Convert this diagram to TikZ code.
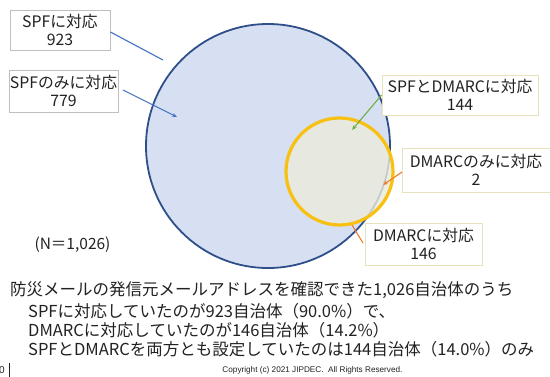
\documentclass[tikz,border=0pt]{standalone}
\usepackage{fontspec}
\setmainfont{Noto Sans CJK JP}
\newfontfamily\arialfont{Liberation Sans}
\usetikzlibrary{arrows.meta}
\definecolor{spfblue}{HTML}{D7E0F2}
\definecolor{spfline}{HTML}{2F4F8A}
\definecolor{dmfill}{HTML}{EBEADC}
\definecolor{dmline}{HTML}{F8C010}
\definecolor{boxgray}{HTML}{BFBFBF}
\definecolor{boxyel}{HTML}{E6E2BC}
\definecolor{cblue}{HTML}{4472C4}
\definecolor{cgreen}{HTML}{70AD47}
\definecolor{corange}{HTML}{ED7D31}
\definecolor{txt}{HTML}{222222}
\tikzset{
  lbl/.style={draw=boxgray, line width=0.8pt, fill=white, align=center, inner sep=0pt,
    font=\fontsize{15.8}{17.5}\selectfont, text=txt},
  lbly/.style={lbl, draw=boxyel},
  conn/.style={line width=1.1pt},
  tip/.style={-{Stealth[length=5pt,width=4pt]}},
  body/.style={anchor=west, inner sep=0pt, font=\fontsize{16.5}{19}\selectfont, text=txt}
}
\begin{document}
\begin{tikzpicture}[x=1pt,y=-1pt]
\useasboundingbox (0,0) rectangle (550,376);
\fill[white] (0,0) rectangle (550,376);
% circles
\node[circle, draw=spfline, fill=spfblue, line width=1.8pt, minimum size=244pt, inner sep=0pt] (spf) at (268,146) {};
\node[circle, draw=dmline, fill=dmfill, fill opacity=0.8, line width=3.2pt, minimum size=107pt, inner sep=0pt] (dm) at (339.5,171.5) {};
% boxes
\node[lbl, minimum width=100pt, minimum height=40pt] (b923) at (60,30) {SPFに対応\\923};
\node[lbl, minimum width=109pt, minimum height=42pt] (b779) at (63.5,91) {SPFのみに対応\\779};
\node[lbly, minimum width=156pt, minimum height=40pt] (b144) at (460,95) {SPFとDMARCに対応\\144};
\node[lbly, minimum width=148pt, minimum height=44pt] (b2) at (476,170) {DMARCのみに対応\\2};
\node[lbly, minimum width=117pt, minimum height=42pt] (b146) at (423.5,244) {DMARCに対応\\146};
% connector ends
\coordinate (e923) at (163,60);
\coordinate (e779) at (177,117);
\coordinate (e144) at (352,130);
\coordinate (e2) at (383,185);
\coordinate (e146) at (352,225);
\coordinate (s779) at (123,90);
\coordinate (s2) at (402,172);
\coordinate (s146) at (363,243);
\draw[conn, cblue] (b923.east) ++(0,2) -- (e923);
\draw[conn, cblue, tip] (s779) -- (e779);
\draw[conn, cgreen, tip] (b144.west) -- (e144);
\draw[conn, corange, tip] (s2) -- (e2);
\draw[conn, corange] (s146) -- (e146);
% N
\node[inner sep=0pt, font=\fontsize{15.5}{17}\selectfont, text=txt] (n) at (72.5,245) {(N＝1,026)};
% body text
\node[body] (t1) at (10,290) {防災メールの発信元メールアドレスを確認できた1,026自治体のうち};
\node[body] (t2) at (28,311) {SPFに対応していたのが923自治体（90.0\%）で、};
\node[body] (t3) at (28,330) {DMARCに対応していたのが146自治体（14.2\%）};
\node[body] (t4) at (28,349) {SPFとDMARCを両方とも設定していたのは144自治体（14.0\%）のみ};
% footer
\node[inner sep=0pt, font=\arialfont\fontsize{8.2}{10}\selectfont, text=txt] (copy) at (312.5,370) {Copyright (c) 2021 JIPDEC.\ \ All Rights Reserved.};
\node[inner sep=0pt, font=\arialfont\fontsize{10}{12}\selectfont, text=txt] (pg) at (2,370) {0};
\draw[txt, line width=0.6pt] (pg.east) ++(4,-7) -- ++(0,14);
\end{tikzpicture}
\end{document}
